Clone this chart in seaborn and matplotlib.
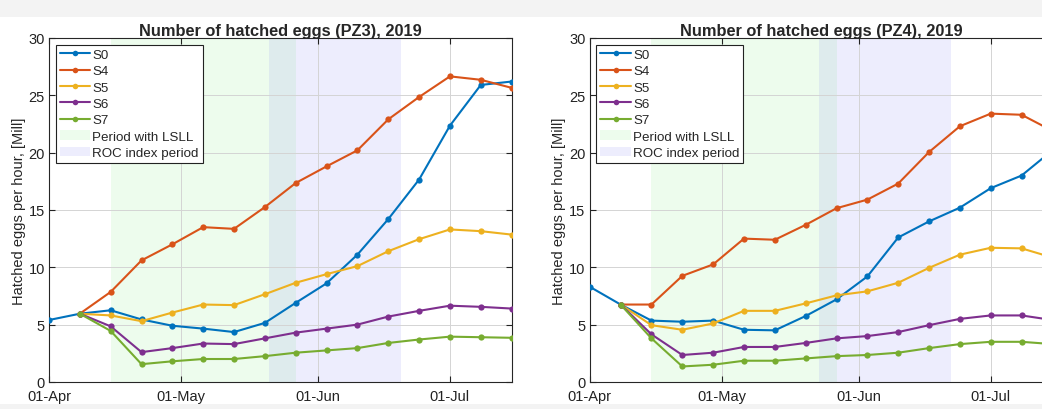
import numpy as np
import pandas as pd
import matplotlib
matplotlib.use("Agg")
import matplotlib.pyplot as plt
import matplotlib.dates as mdates
from matplotlib.patches import Patch, Rectangle
from matplotlib.lines import Line2D
import seaborn as sns

sns.set_style("ticks")
plt.rcParams['font.family'] = ['Liberation Sans', 'DejaVu Sans']

nan = np.nan
dates = pd.date_range("2019-04-01", periods=16, freq="7D")
series_names = ['S0', 'S4', 'S5', 'S6', 'S7']
colors = ['#0072BD', '#D95319', '#EDB120', '#7E2F8E', '#77AC30']

# PZ3 values
pz3 = {
    'S0': [5.4, 5.95, 6.25, 5.45, 4.9, 4.65, 4.35, 5.15, 6.9, 8.6, 11.1, 14.2, 17.65, 22.35, 25.9, 26.2],
    'S4': [nan, 5.95, 7.85, 10.6, 12.0, 13.5, 13.35, 15.25, 17.35, 18.8, 20.2, 22.9, 24.85, 26.65, 26.35, 25.65],
    'S5': [nan, 5.95, 5.8, 5.3, 6.05, 6.75, 6.7, 7.65, 8.65, 9.4, 10.1, 11.4, 12.45, 13.3, 13.15, 12.85],
    'S6': [nan, 5.95, 4.85, 2.6, 2.95, 3.35, 3.3, 3.8, 4.3, 4.65, 5.0, 5.7, 6.2, 6.65, 6.55, 6.4],
    'S7': [nan, 5.95, 4.45, 1.55, 1.8, 2.0, 2.0, 2.25, 2.55, 2.75, 2.95, 3.4, 3.7, 3.95, 3.9, 3.85],
}
# PZ4 values
pz4 = {
    'S0': [8.3, 6.75, 5.35, 5.25, 5.35, 4.55, 4.5, 5.75, 7.2, 9.2, 12.6, 14.0, 15.2, 16.9, 18.0, 20.2],
    'S4': [nan, 6.75, 6.75, 9.25, 10.25, 12.5, 12.4, 13.7, 15.15, 15.9, 17.3, 20.05, 22.3, 23.4, 23.3, 21.9],
    'S5': [nan, 6.75, 4.95, 4.55, 5.1, 6.2, 6.2, 6.85, 7.55, 7.9, 8.65, 9.95, 11.1, 11.7, 11.65, 10.85],
    'S6': [nan, 6.75, 4.15, 2.35, 2.55, 3.05, 3.05, 3.4, 3.8, 4.0, 4.35, 4.95, 5.5, 5.8, 5.8, 5.4],
    'S7': [nan, 6.75, 3.8, 1.35, 1.5, 1.85, 1.85, 2.05, 2.25, 2.35, 2.55, 2.95, 3.3, 3.5, 3.5, 3.3],
}

panels = [
    ("Number of hatched eggs (PZ3), 2019", pz3, ("2019-04-15", "2019-05-27"), ("2019-05-21", "2019-06-20")),
    ("Number of hatched eggs (PZ4), 2019", pz4, ("2019-04-15", "2019-05-27"), ("2019-05-23", "2019-06-22")),
]

fig = plt.figure(figsize=(10.42, 4.10), dpi=100)
fig.patches.append(Rectangle((0, 0.956), 1, 0.044, transform=fig.transFigure,
                             facecolor='#f3f3f3', edgecolor='none', zorder=-1))
fig.patches.append(Rectangle((0, 0), 1, 0.012, transform=fig.transFigure,
                             facecolor='#f3f3f3', edgecolor='none', zorder=-1))

ax1 = fig.add_axes([0.047, 0.066, 0.444, 0.839])
ax2 = fig.add_axes([0.566, 0.066, 0.444, 0.839])

green = (0.55, 0.92, 0.55)
purple = (0.55, 0.55, 0.95)

for ax, (title, data, lsll, roc) in zip([ax1, ax2], panels):
    rows = []
    for name in series_names:
        for d, v in zip(dates, data[name]):
            rows.append({'date': d, 'value': v, 'series': name})
    df = pd.DataFrame(rows).dropna()

    ax.axvspan(pd.Timestamp(lsll[0]), pd.Timestamp(lsll[1]), color=green, alpha=0.15, lw=0, zorder=0)
    ax.axvspan(pd.Timestamp(roc[0]), pd.Timestamp(roc[1]), color=purple, alpha=0.15, lw=0, zorder=0)

    sns.lineplot(data=df, x='date', y='value', hue='series', hue_order=series_names,
                 palette=colors, marker='o', markersize=4.5, markeredgewidth=0,
                 linewidth=1.5, legend=False, ax=ax, zorder=3)

    ax.set_xlim(pd.Timestamp("2019-04-01"), pd.Timestamp("2019-07-15"))
    ax.set_ylim(0, 30)
    ax.set_yticks(range(0, 31, 5))
    ax.xaxis.set_major_locator(mdates.MonthLocator())
    ax.xaxis.set_major_formatter(mdates.DateFormatter('%d-%b'))
    ax.grid(True, color='#d4d4d4', linewidth=0.7, zorder=1)
    ax.set_axisbelow(True)
    ax.tick_params(direction='in', top=True, right=True, length=4, labelsize=10.5,
                   colors='#222222')
    ax.tick_params(axis='x', pad=5)
    ax.tick_params(axis='y', pad=3)
    for sp in ax.spines.values():
        sp.set_color('#262626')
        sp.set_linewidth(0.8)
    ax.set_xlabel('')
    ax.set_ylabel('Hatched eggs per hour, [Mill]', fontsize=10.5, labelpad=2)
    ax.set_title(title, fontsize=11.8, fontweight='bold', pad=2)

    handles = [Line2D([], [], color=c, marker='o', markersize=4, markeredgewidth=0, lw=1.5)
               for c in colors]
    handles += [Patch(facecolor=green, alpha=0.15, edgecolor='none'),
                Patch(facecolor=purple, alpha=0.15, edgecolor='none')]
    labels = series_names + ['Period with LSLL', 'ROC index period']
    leg = ax.legend(handles, labels, loc='upper left', fontsize=9.6, frameon=True,
                    fancybox=False, edgecolor='#222222', framealpha=1,
                    handlelength=2.3, labelspacing=0.3, handletextpad=0.15,
                    borderpad=0.3, borderaxespad=0.5)
    leg.get_frame().set_linewidth(0.8)

fig.savefig("out.png", dpi=100)
